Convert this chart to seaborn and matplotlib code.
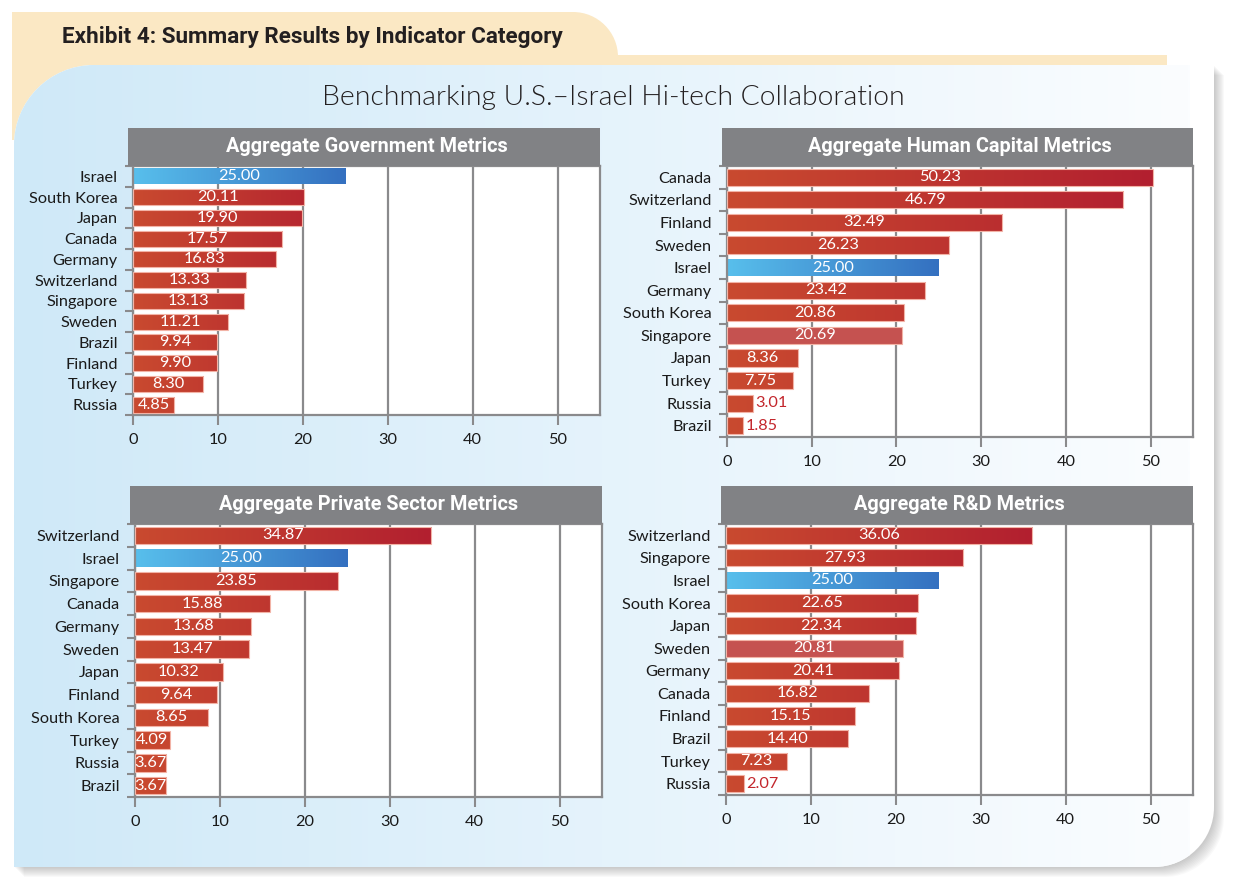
import numpy as np
import pandas as pd
import matplotlib
matplotlib.use("Agg")
import matplotlib.pyplot as plt
import seaborn as sns
from matplotlib.path import Path
from matplotlib.patches import PathPatch, Rectangle
from matplotlib.colors import to_rgb

# ---- data ----
gov_countries = ["Israel", "South Korea", "Japan", "Canada", "Germany", "Switzerland",
                 "Singapore", "Sweden", "Brazil", "Finland", "Turkey", "Russia"]
gov_values = [25.00, 20.11, 19.90, 17.57, 16.83, 13.33, 13.13, 11.21, 9.94, 9.90, 8.30, 4.85]

hc_countries = ["Canada", "Switzerland", "Finland", "Sweden", "Israel", "Germany",
                "South Korea", "Singapore", "Japan", "Turkey", "Russia", "Brazil"]
hc_values = [50.23, 46.79, 32.49, 26.23, 25.00, 23.42, 20.86, 20.69, 8.36, 7.75, 3.01, 1.85]

ps_countries = ["Switzerland", "Israel", "Singapore", "Canada", "Germany", "Sweden",
                "Japan", "Finland", "South Korea", "Turkey", "Russia", "Brazil"]
ps_values = [34.87, 25.00, 23.85, 15.88, 13.68, 13.47, 10.32, 9.64, 8.65, 4.09, 3.67, 3.67]

rd_countries = ["Switzerland", "Singapore", "Israel", "South Korea", "Japan", "Sweden",
                "Germany", "Canada", "Finland", "Brazil", "Turkey", "Russia"]
rd_values = [36.06, 27.93, 25.00, 22.65, 22.34, 20.81, 20.41, 16.82, 15.15, 14.40, 7.23, 2.07]

panel_titles = ["Aggregate Government Metrics", "Aggregate Human Capital Metrics",
                "Aggregate Private Sector Metrics", "Aggregate R&D Metrics"]
flat_bars = [[], ["Singapore"], [], ["Sweden"]]
x_ticks = [0, 10, 20, 30, 40, 50]

header = "Exhibit 4: Summary Results by Indicator Category"
main_title = "Benchmarking U.S.\u2013Israel Hi-tech Collaboration"

# ---- style ----
W, H = 1234, 890
RED0, RED1 = to_rgb("#c94a30"), to_rgb("#b21f2f")
BLUE0, BLUE1 = to_rgb("#58bfec"), to_rgb("#3470c0")
FLAT = "#c55250"
GRAY = "#8a8a8c"
BAR_GRAY = "#818285"
LABEL_FONT = ["Lato", "DejaVu Sans"]
BOLD_FONT = ["Roboto", "DejaVu Sans"]

sns.set_style("white")
plt.rcParams["font.family"] = LABEL_FONT

fig = plt.figure(figsize=(W / 100, H / 100), dpi=100)


def round_rect(x0, y0, x1, y1, tl=0, tr=0, br=0, bl=0):
    k = 0.5523
    v = [(x0 + tl, y0), (x1 - tr, y0),
         (x1 - tr + k * tr, y0), (x1, y0 + tr - k * tr), (x1, y0 + tr),
         (x1, y1 - br),
         (x1, y1 - br + k * br), (x1 - br + k * br, y1), (x1 - br, y1),
         (x0 + bl, y1),
         (x0 + bl - k * bl, y1), (x0, y1 - bl + k * bl), (x0, y1 - bl),
         (x0, y0 + tl),
         (x0, y0 + tl - k * tl), (x0 + tl - k * tl, y0), (x0 + tl, y0),
         (x0 + tl, y0)]
    c = [Path.MOVETO, Path.LINETO,
         Path.CURVE4, Path.CURVE4, Path.CURVE4,
         Path.LINETO,
         Path.CURVE4, Path.CURVE4, Path.CURVE4,
         Path.LINETO,
         Path.CURVE4, Path.CURVE4, Path.CURVE4,
         Path.LINETO,
         Path.CURVE4, Path.CURVE4, Path.CURVE4,
         Path.CLOSEPOLY]
    return Path(v, c)


# ---- background decoration (pixel coordinates) ----
bg = fig.add_axes([0, 0, 1, 1], zorder=0)
bg.set_xlim(0, W)
bg.set_ylim(H, 0)
bg.axis("off")

bg.add_patch(PathPatch(round_rect(12, 12, 618, 140, tl=0, tr=45), fc="#fbe8c4", ec="none"))
bg.add_patch(Rectangle((600, 55), 567, 30, fc="#fbe8c4", ec="none"))

for i in range(10):
    d = i + 1
    bg.add_patch(PathPatch(round_rect(14 + d, 65 + d, 1214 + d, 867 + d, tl=80, br=60),
                           fc="#606060", ec="none", alpha=0.035))
panel_path = round_rect(14, 65, 1214, 867, tl=80, br=60)
panel_patch = PathPatch(panel_path, fc="white", ec="none")
bg.add_patch(panel_patch)
t = np.linspace(0, 1, 300)[:, None]
grad = (1 - t) * np.array(to_rgb("#cfe9f8")) + t * np.array(to_rgb("#fbfdff"))
im = bg.imshow(grad[None, :, :], extent=[14, 1190, 867, 65], aspect="auto",
               interpolation="bilinear", zorder=1)
im.set_clip_path(panel_patch)
bg.set_xlim(0, W)
bg.set_ylim(H, 0)

bg.text(62, 37, header, fontsize=16.2, fontweight="bold", family=BOLD_FONT,
        color="#231f20", ha="left", va="center", zorder=3)
bg.text(613, 98, main_title, fontsize=20.3, fontweight=300, color="#231f20",
        ha="center", va="center", zorder=3)

# ---- panels: (left, top, right, bottom) in pixels ----
boxes = [(133, 166, 600, 415), (727, 166, 1193, 437),
         (135, 524, 602, 797), (726, 524, 1193, 795)]
datasets = [(gov_countries, gov_values), (hc_countries, hc_values),
            (ps_countries, ps_values), (rd_countries, rd_values)]


def gradient_fill(ax, patch, c0, c1, t0, t1):
    x0, y0 = patch.get_x(), patch.get_y()
    w, h = patch.get_width(), patch.get_height()
    tt = np.linspace(t0, t1, 200)[:, None]
    rgb = (1 - tt) * np.array(c0) + tt * np.array(c1)
    img = ax.imshow(rgb[None, :, :], extent=[x0, x0 + w, y0 + h, y0], aspect="auto",
                    interpolation="bilinear", zorder=2.5)
    img.set_clip_path(patch)


for (l, tp, r, b), (countries, values), title, flats in zip(boxes, datasets, panel_titles, flat_bars):
    ax = fig.add_axes([l / W, (H - b) / H, (r - l) / W, (b - tp) / H], zorder=2)
    ax.set_facecolor("white")
    df = pd.DataFrame({"country": countries, "score": values})
    sns.barplot(data=df, x="score", y="country", orient="h", color=FLAT,
                width=0.76, ax=ax, saturation=1)
    vmax = max(values)
    for patch, name, val in zip(ax.patches, countries, values):
        patch.set_zorder(3)
        if name == "Israel":
            patch.set_facecolor("none")
            patch.set_edgecolor("none")
            gradient_fill(ax, patch, BLUE0, BLUE1, 0, 1)
        elif name in flats:
            patch.set_facecolor(FLAT)
            patch.set_edgecolor("#f2b3a6")
            patch.set_linewidth(0.8)
        else:
            patch.set_facecolor("none")
            patch.set_edgecolor("#f2b3a6")
            patch.set_linewidth(0.8)
            gradient_fill(ax, patch, RED0, RED1, 0, val / vmax)
        yc = patch.get_y() + patch.get_height() / 2
        if val < 3.5:
            ax.text(val + 0.3, yc, f"{val:.2f}", color="#c3262c", fontsize=11.7,
                    ha="left", va="center", zorder=4)
        else:
            ax.text(val / 2, yc, f"{val:.2f}", color="white", fontsize=11.7,
                    ha="center", va="center", zorder=4)

    n = len(countries)
    ax.set_xlim(0, 55)
    ax.set_ylim(n - 0.5, -0.5)
    ax.set_xticks(x_ticks)
    ax.set_yticks(range(n))
    ax.set_yticklabels(countries)
    ax.set_yticks(np.arange(-0.5, n, 1), minor=True)
    ax.set_xlabel("")
    ax.set_ylabel("")
    ax.set_axisbelow(True)
    ax.xaxis.grid(True, color=GRAY, linewidth=1.6)
    ax.yaxis.grid(False)
    for s in ax.spines.values():
        s.set_visible(True)
        s.set_color(GRAY)
        s.set_linewidth(1.6)
    ax.tick_params(axis="y", which="major", length=0, pad=11, labelsize=11.7, labelcolor="#1a1a1a")
    ax.tick_params(axis="y", which="minor", length=6, width=1.5, color=GRAY, left=True)
    ax.tick_params(axis="x", length=7, width=1.5, color=GRAY, pad=6, labelsize=11.7,
                   labelcolor="#1a1a1a", bottom=True)

    hpx = b - tp
    bar_h = 38 / hpx
    ax.add_patch(Rectangle((-0.01, 1.0), 1.01, bar_h, transform=ax.transAxes,
                           fc=BAR_GRAY, ec="none", clip_on=False, zorder=5))
    ax.text(0.5, 1.0 + bar_h / 2, title, transform=ax.transAxes, ha="center",
            va="center", color="white", fontsize=14.3, fontweight="bold",
            family=BOLD_FONT, zorder=6)

fig.savefig("out.png", dpi=100)
